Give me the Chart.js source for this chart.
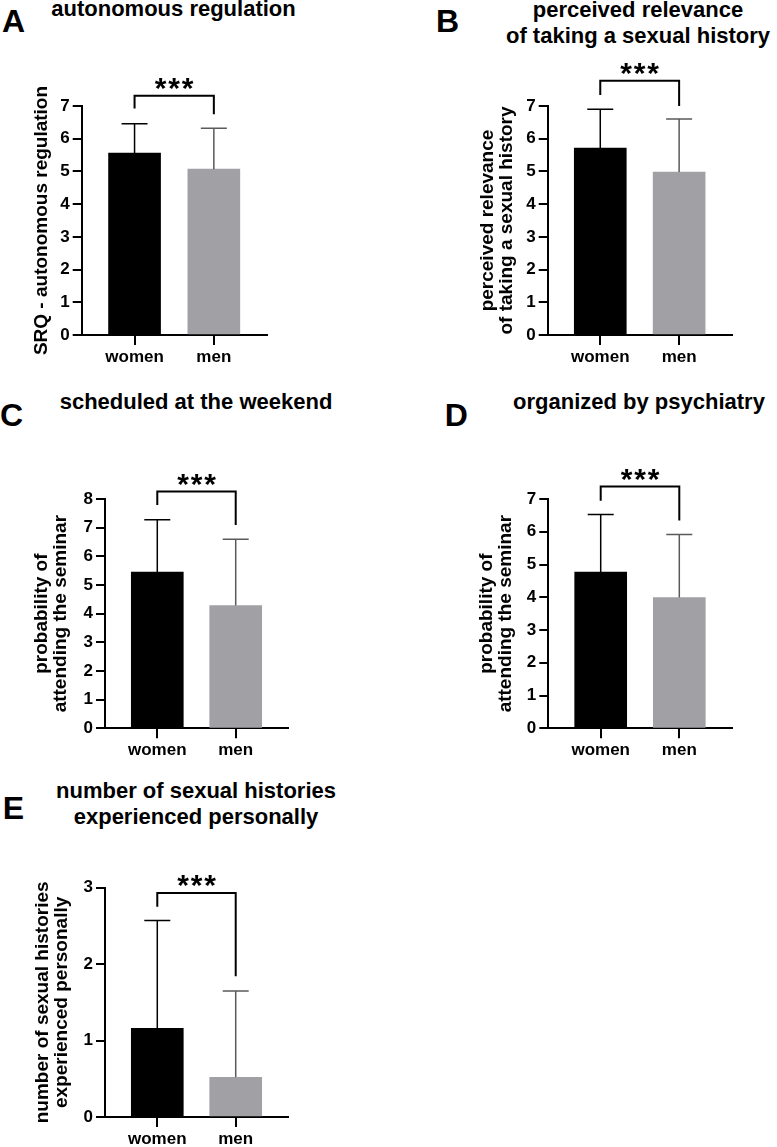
<!DOCTYPE html>
<html>
<head>
<meta charset="utf-8">
<script src="https://cdn.jsdelivr.net/npm/chart.js@4.4.1/dist/chart.umd.min.js"></script>
<style>
  html, body { margin: 0; padding: 0; background: #fff; }
  body { position: relative; width: 777px; height: 1147px; overflow: hidden; font-family: 'Liberation Sans', Arial, sans-serif; color: #000; }
  .panel-letter { position: absolute; font-size: 32px; font-weight: bold; line-height: 36px; }
  .panel-title { position: absolute; font-size: 22px; font-weight: bold; line-height: 26px; text-align: center; white-space: nowrap; transform: translateX(-50%); }
  canvas { position: absolute; }
</style>
</head>
<body>
<script>
// data
const categories = ['women', 'men'];
const panelLetters = ['A', 'B', 'C', 'D', 'E'];
const panelTitles = [
    ['autonomous regulation'],
    ['perceived relevance', 'of taking a sexual history'],
    ['scheduled at the weekend'],
    ['organized by psychiatry'],
    ['number of sexual histories', 'experienced personally']
];
const yAxisTitles = [
    ['SRQ - autonomous regulation'],
    ['perceived relevance', 'of taking a sexual history'],
    ['probability of', 'attending the seminar'],
    ['probability of', 'attending the seminar'],
    ['number of sexual histories', 'experienced personally']
];
const yMax = [7, 7, 8, 7, 3];
const meanWomen = [5.56, 5.71, 5.45, 4.77, 1.16];
const meanMen = [5.07, 4.98, 4.28, 3.99, 0.52];
const sdWomen = [0.90, 1.19, 1.83, 1.76, 1.41];
const sdMen = [1.25, 1.62, 2.32, 1.93, 1.13];
const bracketTop = [7.31, 7.77, 8.26, 7.38, 2.93];
const bracketLeftEnd = [6.92, 7.34, 7.79, 6.95, 2.75];
const bracketRightEnd = [6.75, 7.00, 7.09, 6.34, 1.84];
const significance = ['***', '***', '***', '***', '***'];

// layout (page pixels)
const canvasBox = [
    { x: 0, y: 40, w: 390, h: 340 },
    { x: 390, y: 40, w: 387, h: 340 },
    { x: 0, y: 430, w: 390, h: 340 },
    { x: 390, y: 430, w: 387, h: 340 },
    { x: 0, y: 850, w: 390, h: 297 }
];
const chartBox = [
    { left: 81.7, top: 106, right: 266.7, bottom: 335 },
    { left: 547.7, top: 106, right: 731.7, bottom: 335 },
    { left: 105, top: 499, right: 288, bottom: 728.3 },
    { left: 548.3, top: 499, right: 731.7, bottom: 728.3 },
    { left: 105, top: 887.7, right: 288, bottom: 1117 }
];
const yTitlePad = [32.75, 88.75, 32.75, 87.75, 33.75];
const titlePos = [
    { x: 173.5, y: -4 }, { x: 638, y: -3.5 }, { x: 196, y: 389.4 }, { x: 639, y: 389.4 }, { x: 196, y: 777.7 }
];
const letterPos = [
    { x: 2, y: 2.6 }, { x: 436, y: 2.6 }, { x: 0, y: 397 }, { x: 444.7, y: 397 }, { x: 2.7, y: 790.2 }
];
const barColors = ['#000000', '#a1a1a5'];
const errColors = ['#000000', '#5a5a5a'];

Chart.defaults.font.family = "'Liberation Sans', Arial, sans-serif";
Chart.defaults.color = '#000';

function annotations(p) {
    return {
        id: 'annotations' + p,
        afterDatasetsDraw(chart) {
            const { ctx, scales: { x, y } } = chart;
            const means = [meanWomen[p], meanMen[p]];
            const sds = [sdWomen[p], sdMen[p]];
            ctx.save();
            ctx.lineWidth = 1.5;
            means.forEach((m, i) => {
                const cx = x.getPixelForValue(i);
                const yBar = y.getPixelForValue(m);
                const yTop = y.getPixelForValue(m + sds[i]);
                ctx.strokeStyle = errColors[i];
                ctx.beginPath();
                ctx.moveTo(cx, yBar);
                ctx.lineTo(cx, yTop);
                ctx.moveTo(cx - 13, yTop);
                ctx.lineTo(cx + 13, yTop);
                ctx.stroke();
            });
            ctx.restore();
        },
        afterDraw(chart) {
            const { ctx, scales: { x, y } } = chart;
            const x0 = x.getPixelForValue(0);
            const x1 = x.getPixelForValue(1);
            const top = y.getPixelForValue(bracketTop[p]);
            ctx.save();
            ctx.strokeStyle = '#000';
            ctx.lineWidth = 2;
            ctx.beginPath();
            ctx.moveTo(x0, y.getPixelForValue(bracketLeftEnd[p]));
            ctx.lineTo(x0, top);
            ctx.lineTo(x1, top);
            ctx.lineTo(x1, y.getPixelForValue(bracketRightEnd[p]));
            ctx.stroke();

            ctx.fillStyle = '#000';
            ctx.font = "bold 30px 'Liberation Sans', Arial, sans-serif";
            ctx.textAlign = 'center';
            ctx.textBaseline = 'alphabetic';
            const cx = (x0 + x1) / 2;
            const stars = significance[p].split('');
            stars.forEach((s, k) => {
                ctx.fillText(s, cx + (k - (stars.length - 1) / 2) * 13.5, top + 2);
            });
            ctx.restore();
        }
    };
}

function makePanel(p) {
    const box = canvasBox[p];
    const area = chartBox[p];

    const letter = document.createElement('div');
    letter.className = 'panel-letter';
    letter.style.left = letterPos[p].x + 'px';
    letter.style.top = letterPos[p].y + 'px';
    letter.textContent = panelLetters[p];
    document.body.appendChild(letter);

    const title = document.createElement('div');
    title.className = 'panel-title';
    title.style.left = titlePos[p].x + 'px';
    title.style.top = titlePos[p].y + 'px';
    title.innerHTML = panelTitles[p].join('<br>');
    document.body.appendChild(title);

    const canvas = document.createElement('canvas');
    canvas.width = box.w;
    canvas.height = box.h;
    canvas.style.left = box.x + 'px';
    canvas.style.top = box.y + 'px';
    canvas.style.width = box.w + 'px';
    canvas.style.height = box.h + 'px';
    document.body.appendChild(canvas);

    const yWidth = area.left - box.x;
    const xHeight = box.y + box.h - area.bottom;
    const values = [meanWomen[p], meanMen[p]];

    new Chart(canvas, {
        type: 'bar',
        data: {
            datasets: [{
                data: categories.map((c, i) => ({ x: i, y: values[i] })),
                backgroundColor: barColors,
                borderWidth: 0,
                barThickness: 52
            }]
        },
        options: {
            responsive: false,
            animation: false,
            events: [],
            layout: {
                padding: { left: 0, top: area.top - box.y, right: box.x + box.w - area.right, bottom: 0 }
            },
            plugins: {
                legend: { display: false },
                tooltip: { enabled: false }
            },
            scales: {
                x: {
                    type: 'linear',
                    min: -2 / 3,
                    max: 5 / 3,
                    offset: false,
                    afterBuildTicks: (s) => { s.ticks = categories.map((c, i) => ({ value: i })); },
                    afterFit: (s) => { s.height = xHeight; },
                    grid: { offset: false, drawOnChartArea: false, color: '#000', lineWidth: 2, tickLength: 10 },
                    border: { color: '#000', width: 2 },
                    ticks: {
                        padding: 2,
                        color: '#000',
                        font: { size: 17, weight: 'bold' },
                        maxRotation: 0,
                        callback: (v) => categories[v]
                    }
                },
                y: {
                    min: 0,
                    max: yMax[p],
                    afterFit: (s) => { s.width = yWidth; },
                    grid: { drawOnChartArea: false, color: '#000', lineWidth: 2, tickLength: 9 },
                    border: { color: '#000', width: 2 },
                    ticks: {
                        stepSize: 1,
                        padding: 3,
                        color: '#000',
                        font: { size: 17, weight: 'bold' }
                    },
                    title: {
                        display: true,
                        text: yAxisTitles[p],
                        color: '#000',
                        font: { size: 19, weight: 'bold', lineHeight: '18.5px' },
                        padding: { top: yTitlePad[p], bottom: 0 }
                    }
                }
            }
        },
        plugins: [annotations(p)]
    });
}

for (let p = 0; p < 5; p++) {
    makePanel(p);
}
</script>
</body>
</html>
